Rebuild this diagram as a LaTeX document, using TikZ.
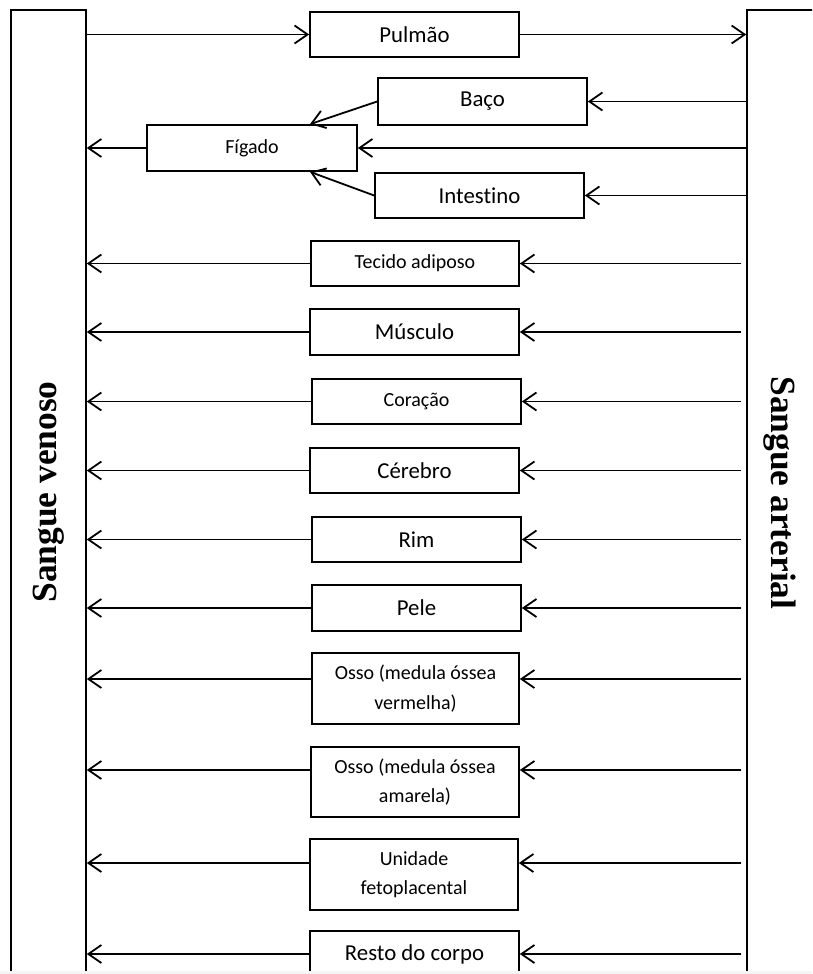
\documentclass[tikz,border=0pt]{standalone}
\usepackage{fontspec}
\setmainfont{Carlito}[Ligatures={NoCommon}]
\newfontfamily\sidefont{Liberation Serif}
\usetikzlibrary{arrows.meta,calc}

\begin{document}
\begin{tikzpicture}[x=1pt,y=-1pt,
  organ/.style={draw, line width=1.7pt, inner sep=0pt, minimum width=209pt,
    minimum height=45pt, align=center, font=\fontsize{22.8}{28}\selectfont},
  small/.style={font=\fontsize{20}{29.5}\selectfont},
  column/.style={draw, line width=1.6pt, inner sep=0pt, minimum width=75pt,
    minimum height=990pt},
  flow/.style={line width=1.8pt,
    -{Straight Barb[length=13pt,width=18pt,line width=1.8pt]}},
  side/.style={font=\sidefont\bfseries\fontsize{35.4}{40}\selectfont}]

\useasboundingbox (0,0) rectangle (812,974);
\clip (0,0) rectangle (812,974);

% blood columns
\node[column] (ven) at (48.5,505) {};
\node[column, minimum width=100pt] (art) at (797,505) {};
\node[side, rotate=90] (venlbl) at (48.5,492) {Sangue venoso};
\node[side, rotate=-90] (artlbl) at (780,493) {Sangue arterial};

% organs
\node[organ] (pul) at (414.5,34.5) {Pulmão};
\node[organ, minimum height=47pt] (baco) at (482.5,101.5) {Baço};
\node[organ, small, minimum width=210pt, minimum height=46pt] (fig) at (252,148) {Fígado};
\node[organ] (int) at (479.5,195.5) {Intestino};
\node[organ, small, minimum width=208pt] (tec) at (415,263.5) {Tecido adiposo};
\node[organ, minimum height=46pt] (mus) at (414.5,332) {Músculo};
\node[organ, small] (cor) at (416.5,401.5) {Coração};
\node[organ] (cer) at (414.5,470.5) {Cérebro};
\node[organ] (rim) at (416.5,539.5) {Rim};
\node[organ, minimum height=46pt] (pele) at (416.5,608) {Pele};
\node[organ, small, minimum width=207pt, minimum height=71pt] (ossov) at (415.5,688.5) {Osso (medula óssea\\vermelha)};
\node[organ, small, minimum width=208pt, minimum height=70pt] (ossoa) at (415,782) {Osso (medula óssea\\amarela)};
\node[organ, small, minimum width=208pt, minimum height=71pt] (uni) at (414,874.5) {Unidade\\fetoplacental};
\node[organ, minimum height=46pt] (resto) at (414.5,954) {Resto do corpo};

% lungs
\draw[flow] (ven.east |- pul.west) -- (pul.west);
\draw[flow] (pul.east) -- (art.west |- pul.east);

% splanchnic circulation through the liver
\draw[flow] (art.west |- baco.east) -- (baco.east);
\draw[flow] (art.west |- fig.east) -- (fig.east);
\draw[flow] (art.west |- int.east) -- (int.east);
\draw[flow] (baco.west) -- ($(fig.north)+(58,0)$);
\draw[flow] (int.west) -- ($(fig.south)+(58,0)$);
\draw[flow] (fig.west) -- (ven.east |- fig.west);

% remaining organs in parallel
\foreach \n/\d in {tec/0, mus/0, cor/0, cer/0, rim/0, pele/0,
                   ossov/9.5, ossoa/12, uni/11.5, resto/0} {
  \draw[flow] ($(art.west |- \n.east)+(-5,-\d)$) -- ($(\n.east)+(0,-\d)$);
  \draw[flow] ($(\n.west)+(0,-\d)$) -- ($(ven.east |- \n.west)+(0,-\d)$);
}

% page edge
\fill[gray!8] (0,971) rectangle (812,974);
\end{tikzpicture}
\end{document}
